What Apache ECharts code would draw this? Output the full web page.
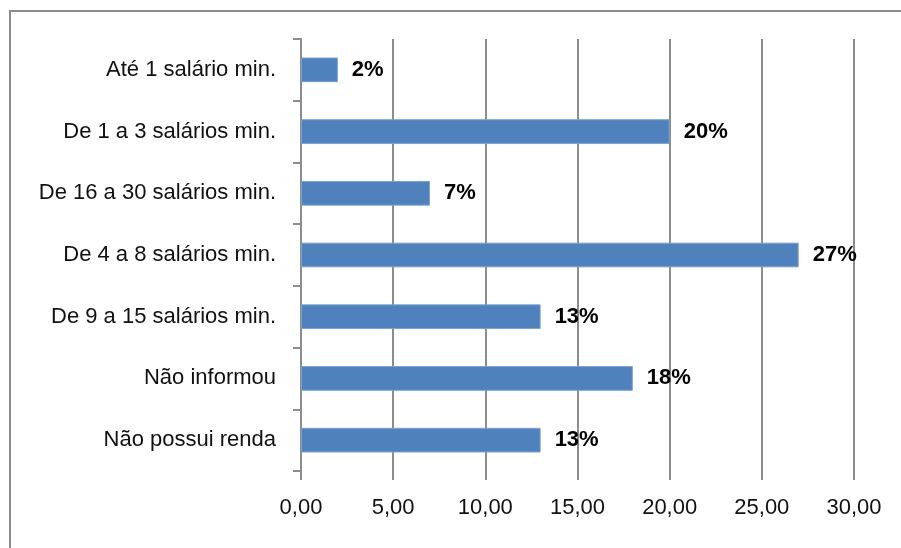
<!DOCTYPE html>
<html>
<head>
<meta charset="utf-8">
<script src="https://cdn.jsdelivr.net/npm/echarts@6/dist/echarts.min.js"></script>
<style>
  html, body { margin: 0; padding: 0; background: #fff; }
  #frame {
    position: absolute; left: 9px; top: 10px; width: 1000px; height: 700px;
    border-left: 2px solid #8c8c8c; border-top: 2px solid #8c8c8c;
  }
  #chart { position: absolute; left: 0; top: 0; width: 901px; height: 548px; }
</style>
</head>
<body>
<div id="frame"></div>
<div id="chart"></div>
<script>
// faixas de renda (de cima para baixo)
const categorias = [
  "Até 1 salário min.",
  "De 1 a 3 salários min.",
  "De 16 a 30 salários min.",
  "De 4 a 8 salários min.",
  "De 9 a 15 salários min.",
  "Não informou",
  "Não possui renda",
];
const valores = [2, 20, 7, 27, 13, 18, 13];

let myChart = echarts.init(document.getElementById("chart"));
let fonte = "'Liberation Sans', Arial, sans-serif";
let option = {
  animation: false,
  grid: { left: 301, right: 47, top: 39, bottom: 77 },
  xAxis: {
    type: "value",
    min: 0,
    max: 30,
    interval: 5,
    axisLine: { show: false },
    axisTick: { show: true, length: 9, lineStyle: { color: "#8c8c8c", width: 2 } },
    splitLine: { show: true, lineStyle: { color: "#8c8c8c", width: 2 } },
    axisLabel: {
      margin: 26,
      fontFamily: fonte,
      fontSize: 22,
      color: "#111",
      formatter: (v) => v.toFixed(2).replace(".", ","),
    },
  },
  yAxis: {
    type: "category",
    data: categorias,
    inverse: true,
    axisLine: { show: true, lineStyle: { color: "#8c8c8c", width: 2 } },
    axisTick: { show: true, length: 8, lineStyle: { color: "#8c8c8c", width: 2 } },
    axisLabel: { margin: 25, fontFamily: fonte, fontSize: 22, color: "#111" },
  },
  series: [
    {
      type: "bar",
      data: valores,
      barWidth: "40%",
      itemStyle: { color: "#4f81bd", borderColor: "#7da2cf", borderWidth: 1 },
      label: {
        show: true,
        position: "right",
        distance: 14,
        formatter: (p) => p.value + "%",
        fontFamily: fonte,
        fontSize: 22,
        fontWeight: "bold",
        color: "#000",
      },
    },
  ],
};
option && myChart.setOption(option);
</script>
</body>
</html>
